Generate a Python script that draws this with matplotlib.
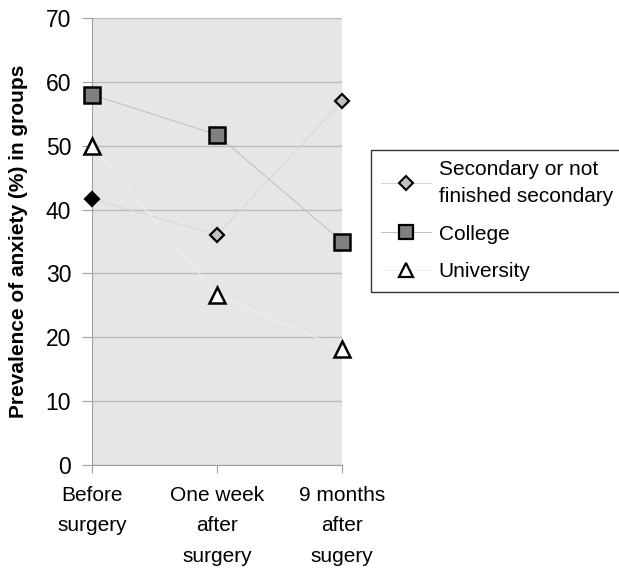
import matplotlib
matplotlib.use('Agg')
import matplotlib.pyplot as plt
from matplotlib.lines import Line2D

plt.rcParams['font.family'] = ['Liberation Sans', 'DejaVu Sans']

categories = ['Before\nsurgery', 'One week\nafter\nsurgery', '9 months\nafter\nsugery']
secondary = [41.7, 36.0, 57.0]
college = [58.0, 51.7, 35.0]
university = [50.0, 26.6, 18.2]

fig = plt.figure(figsize=(6.19, 5.74), dpi=100)
ax = fig.add_axes([92/619, 109/574, 250/619, 447/574])
ax.set_facecolor('#e6e6e6')

x = list(range(len(categories)))

ax.plot(x, secondary, color='#d6d6d6', lw=0.7, zorder=2)
ax.plot(x, college, color='#c0c0c0', lw=0.7, zorder=2)
ax.plot(x, university, color='#f2f2f2', lw=0.7, zorder=2)

# first diamond is drawn black in the original
ax.plot(x[1:], secondary[1:], ls='none', marker='D', ms=7.5, mfc='#c0c0c0', mec='black', mew=1.6, zorder=3, clip_on=False)
ax.plot(x[:1], secondary[:1], ls='none', marker='D', ms=7.5, mfc='black', mec='black', mew=1.6, zorder=3, clip_on=False)
ax.plot(x, college, ls='none', marker='s', ms=11.5, mfc='#808080', mec='black', mew=1.8, zorder=3, clip_on=False)
ax.plot(x, university, ls='none', marker='^', ms=12, mfc='white', mec='black', mew=1.8, zorder=3, clip_on=False)

ax.set_xlim(0, 2)
ax.set_ylim(0, 70)
ax.set_yticks(range(0, 71, 10))
ax.yaxis.grid(True, color='#bcbcbc', lw=1)
ax.set_axisbelow(True)
ax.set_xticks(x)
ax.set_xticklabels(categories, fontsize=15, linespacing=1.77)
ax.tick_params(axis='y', labelsize=16.5, length=7, color='#a0a0a0', pad=8)
ax.tick_params(axis='x', length=6, color='#a0a0a0', pad=9)
for s in ['top', 'right']:
    ax.spines[s].set_visible(False)
ax.spines['left'].set_color('#a0a0a0')
ax.spines['bottom'].set_color('#a0a0a0')

ax.set_ylabel('Prevalence of anxiety (%) in groups', fontsize=15, fontweight='bold')
ax.yaxis.set_label_coords(-0.256, 0.5)

handles = [
    Line2D([], [], color='#d6d6d6', lw=0.7, marker='D', ms=7, mfc='#c0c0c0', mec='black', mew=1.5),
    Line2D([], [], color='#c0c0c0', lw=0.7, marker='s', ms=10, mfc='#808080', mec='black', mew=1.6),
    Line2D([], [], color='#f2f2f2', lw=0.7, marker='^', ms=10, mfc='white', mec='black', mew=1.6),
]
labels = ['Secondary or not\nfinished secondary', 'College', 'University']
leg = fig.legend(handles, labels, loc='upper left', bbox_to_anchor=(371/619, 1 - 150/574),
                 fontsize=15, frameon=True, fancybox=False, edgecolor='black',
                 handlelength=2.4, borderpad=0.5, labelspacing=0.9, handletextpad=0.35,
                 borderaxespad=0)
leg.get_frame().set_linewidth(1.0)
for t in leg.get_texts():
    t.set_linespacing(1.5)

fig.savefig('out.png', dpi=100)
